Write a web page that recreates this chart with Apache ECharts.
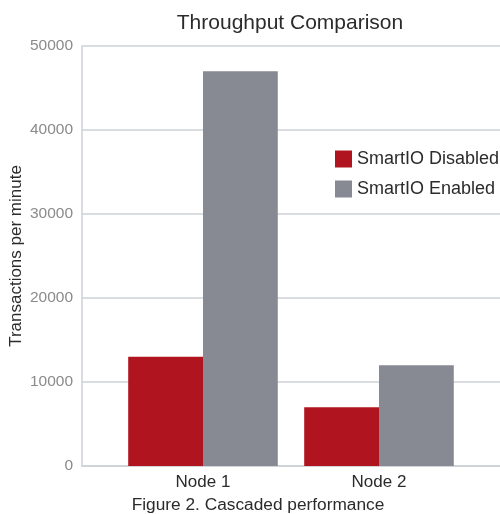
<!DOCTYPE html>
<html>
<head>
<meta charset="utf-8">
<script src="https://cdn.jsdelivr.net/npm/echarts@6/dist/echarts.min.js"></script>
<style>html,body{margin:0;padding:0;background:#fff}#c{width:500px;height:514px}</style>
</head>
<body>
<div id="c"></div>
<script>
const categories = ['Node 1', 'Node 2'];
const seriesNames = ['SmartIO Disabled', 'SmartIO Enabled'];
const disabledValues = [13000, 7000];
const enabledValues = [47000, 12000];
const yTicks = [0, 10000, 20000, 30000, 40000, 50000];

const chart = echarts.init(document.getElementById('c'), null, {renderer: 'canvas'});
const font = 'Helvetica, Arial, "Liberation Sans", sans-serif';
chart.setOption({
  animation: false,
  textStyle: {fontFamily: font},
  title: [
    {text: 'Throughput Comparison', left: 285, textAlign: 'center', top: 8,
     textStyle: {fontSize: 21, fontWeight: 'normal', color: '#2b2b2b', fontFamily: font}},
    {text: 'Figure 2. Cascaded performance', left: 253, textAlign: 'center', top: 492,
     textStyle: {fontSize: 17.3, fontWeight: 'normal', color: '#2b2b2b', fontFamily: font}}
  ],
  legend: {
    orient: 'vertical', left: 330, top: 145, itemWidth: 17, itemHeight: 17, itemGap: 12,
    icon: 'rect',
    textStyle: {fontSize: 18, lineHeight: 18, color: '#2b2b2b', fontFamily: font},
    data: seriesNames
  },
  grid: [
    {left: 82, right: 0, top: 46, bottom: 48, outerBoundsMode: 'none', containLabel: false},
    {left: 115, right: 33, top: 46, bottom: 48, outerBoundsMode: 'none', containLabel: false}
  ],
  xAxis: [
    {gridIndex: 0, type: 'category', data: [''], axisLine: {lineStyle: {color: '#cdd1d6', width: 1.5}},
     axisTick: {show: false}, axisLabel: {show: false}},
    {gridIndex: 1, type: 'category', data: categories, axisLine: {show: false}, axisTick: {show: false},
     axisLabel: {fontSize: 17, color: '#2b2b2b', margin: 8, fontFamily: font}}
  ],
  yAxis: [
    {gridIndex: 0, type: 'value', min: yTicks[0], max: yTicks[yTicks.length - 1], interval: 10000,
     name: 'Transactions per minute', nameLocation: 'middle', nameGap: 57, nameMoveOverlap: false,
     nameTextStyle: {fontSize: 17, color: '#2b2b2b', fontFamily: font},
     axisLine: {show: true, lineStyle: {color: '#cdd1d6', width: 1.5}},
     axisTick: {show: false},
     axisLabel: {fontSize: 15.5, color: '#8a8a8a', margin: 9, fontFamily: font,
                 formatter: v => String(v)},
     splitLine: {lineStyle: {color: '#cdd1d6', width: 1.5}}},
    {gridIndex: 1, type: 'value', min: yTicks[0], max: yTicks[yTicks.length - 1], interval: 10000,
     axisLine: {show: false}, axisTick: {show: false}, axisLabel: {show: false}, splitLine: {show: false}}
  ],
  series: [
    {name: seriesNames[0], type: 'bar', xAxisIndex: 1, yAxisIndex: 1, data: disabledValues,
     itemStyle: {color: '#b0151f'}, barGap: '0%', barCategoryGap: '15%'},
    {name: seriesNames[1], type: 'bar', xAxisIndex: 1, yAxisIndex: 1, data: enabledValues,
     itemStyle: {color: '#878a92'}, barGap: '0%', barCategoryGap: '15%'}
  ]
});
</script>
</body>
</html>
